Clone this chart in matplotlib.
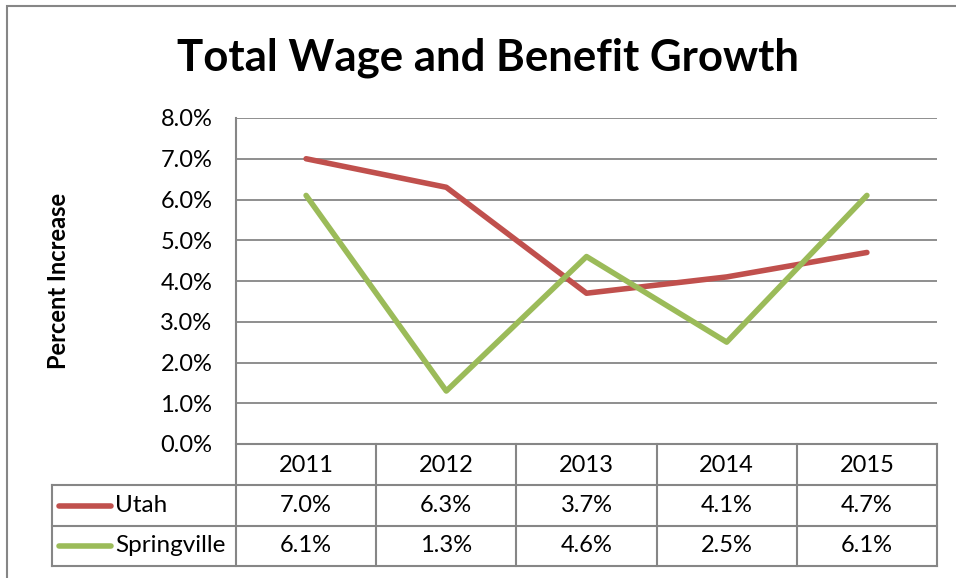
import matplotlib.pyplot as plt
import matplotlib.transforms as mtransforms
import matplotlib.ticker as mtick
from matplotlib.lines import Line2D
from matplotlib.patches import Rectangle

# ========= data =========
years = ["2011", "2012", "2013", "2014", "2015"]
utah = [7.0, 6.3, 3.7, 4.1, 4.7]
springville = [6.1, 1.3, 4.6, 2.5, 6.1]
series_names = ["Utah", "Springville"]

RED = "#C0504D"
GREEN = "#9BBB59"
GRID = "#868686"
W, H = 956, 578
FS = 17

plt.rcParams["font.family"] = ["Lato", "DejaVu Sans"]

fig = plt.figure(figsize=(W / 100, H / 100), dpi=100)


def fx(px):
    return px / W


def fy(py):
    return 1 - py / H


def rule(xs, ys, transform=None):
    fig.lines.append(Line2D(xs, ys, transform=transform or fig.transFigure,
                            color=GRID, lw=1.5))


# outer chart frame (runs off the right and bottom edge)
fig.patches.append(Rectangle((fx(7), fy(600)), fx(1000), fy(6) - fy(600),
                             transform=fig.transFigure, fill=False,
                             edgecolor=GRID, lw=1.5))

ax = fig.add_axes([fx(236), fy(444), fx(937) - fx(236), fy(118) - fy(444)])
x = list(range(len(years)))
ax.plot(x, utah, color=RED, lw=4, solid_capstyle="round", solid_joinstyle="round")
ax.plot(x, springville, color=GREEN, lw=4, solid_capstyle="round", solid_joinstyle="round")
ax.set_xlim(-0.5, len(years) - 0.5)
ax.set_ylim(0, 8)
ax.yaxis.set_major_locator(mtick.MultipleLocator(1))
ax.yaxis.set_major_formatter(mtick.FormatStrFormatter("%.1f%%"))
ax.set_xticks([])
ax.tick_params(axis="y", length=0, labelsize=FS, pad=17)
ax.grid(axis="y", color=GRID, lw=1.3)
ax.set_axisbelow(True)
for s in ax.spines.values():
    s.set_visible(False)

fig.text(fx(58), fy(281), "Percent Increase", rotation=90, fontsize=17,
         fontweight="bold", ha="center", va="center")

fig.text(fx(488), fy(58), "Total Wage and Benefit Growth", fontsize=31.5,
         fontweight="bold", ha="center", va="center")

# ========= data table under the plot =========
tr = mtransforms.blended_transform_factory(ax.transData, fig.transFigure)
row_y = [444, 485, 526, 566]

# horizontal rules
rule([fx(236), fx(937)], [fy(444), fy(444)])
for y in row_y[1:]:
    rule([fx(52), fx(937)], [fy(y), fy(y)])

# vertical rules between the year columns
for k in range(len(years) + 1):
    xd = k - 0.5
    top = 118 if k == 0 else 444
    rule([xd, xd], [fy(top), fy(566)], tr)
rule([fx(52), fx(52)], [fy(485), fy(566)])

# header row
for i, yr in enumerate(years):
    fig.text(i, fy(465), yr, transform=tr, ha="center", va="center", fontsize=FS)

# value rows with legend keys
for r, (name, vals, col) in enumerate([(series_names[0], utah, RED),
                                        (series_names[1], springville, GREEN)]):
    yc = fy((row_y[r + 1] + row_y[r + 2]) / 2)
    for i, v in enumerate(vals):
        fig.text(i, yc, f"{v:.1f}%", transform=tr, ha="center", va="center", fontsize=FS)
    fig.lines.append(Line2D([fx(59), fx(111)], [yc, yc], transform=fig.transFigure,
                            color=col, lw=4, solid_capstyle="round"))
    fig.text(fx(115), yc, name, ha="left", va="center", fontsize=FS + 0.5)

fig.savefig("out.png", dpi=100)
